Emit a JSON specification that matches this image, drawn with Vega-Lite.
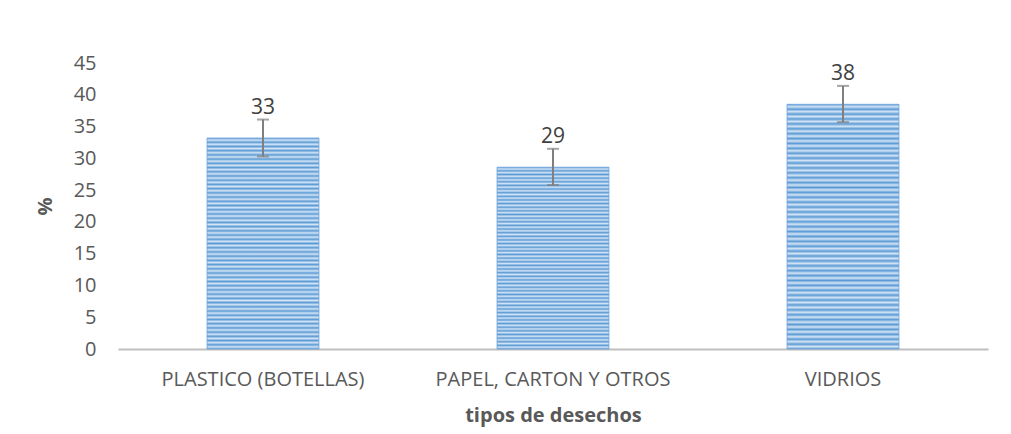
{
  "$schema": "https://vega.github.io/schema/vega-lite/v6.json",
  "width": 870,
  "height": 286,
  "autosize": {"type": "none"},
  "padding": {"left": 118, "top": 63, "right": 23, "bottom": 85},
  "background": "white",
  "config": {
    "view": {"stroke": null},
    "font": "Open Sans",
    "axisY": {
      "titleFontSize": 20, "titleFontWeight": "bold", "titleColor": "#595959",
      "titleX": -73, "titleY": 143, "titleAngle": -90, "titleBaseline": "middle", "titleAlign": "center",
      "labelFontSize": 20, "labelColor": "#595959", "labelPadding": 22, "labelOverlap": false,
      "ticks": false, "domain": false, "grid": false
    }
  },
  "data": {"values": [
    {"tipo": "PLASTICO (BOTELLAS)", "pct": 33.2, "lo": 30.3, "hi": 36.1, "label": "33"},
    {"tipo": "PAPEL, CARTON Y OTROS", "pct": 28.6, "lo": 25.8, "hi": 31.5, "label": "29"},
    {"tipo": "VIDRIOS", "pct": 38.5, "lo": 35.7, "hi": 41.4, "label": "38"}
  ]},
  "encoding": {
    "x": {
      "field": "tipo", "type": "nominal", "sort": null,
      "scale": {"paddingInner": 0, "paddingOuter": 0},
      "axis": {
        "title": "tipos de desechos", "titleFontSize": 20, "titleFontWeight": "bold", "titleColor": "#595959",
        "titleY": 66, "titleBaseline": "middle",
        "labelAngle": 0, "labelFontSize": 20, "labelColor": "#595959", "labelPadding": 20,
        "labelLimit": 0, "labelOverlap": false,
        "ticks": false, "domainColor": "#bfbfbf", "domainWidth": 2, "grid": false
      }
    }
  },
  "layer": [
    {
      "mark": {
        "type": "bar", "width": {"band": 0.386}, "stroke": "#6fa3dc", "strokeWidth": 0.8,
        "color": {"gradient": "linear", "x1": 0, "y1": 0, "x2": 0, "y2": 1, "stops": [
          {"offset": 0, "color": "#5b9bd5"}, {"offset": 0.01, "color": "#d4e4f6"}, {"offset": 0.02, "color": "#5b9bd5"}, {"offset": 0.03, "color": "#d4e4f6"}, {"offset": 0.04, "color": "#5b9bd5"}, {"offset": 0.05, "color": "#d4e4f6"}, {"offset": 0.06, "color": "#5b9bd5"}, {"offset": 0.07, "color": "#d4e4f6"}, {"offset": 0.08, "color": "#5b9bd5"}, {"offset": 0.09, "color": "#d4e4f6"},
          {"offset": 0.10, "color": "#5b9bd5"}, {"offset": 0.11, "color": "#d4e4f6"}, {"offset": 0.12, "color": "#5b9bd5"}, {"offset": 0.13, "color": "#d4e4f6"}, {"offset": 0.14, "color": "#5b9bd5"}, {"offset": 0.15, "color": "#d4e4f6"}, {"offset": 0.16, "color": "#5b9bd5"}, {"offset": 0.17, "color": "#d4e4f6"}, {"offset": 0.18, "color": "#5b9bd5"}, {"offset": 0.19, "color": "#d4e4f6"},
          {"offset": 0.20, "color": "#5b9bd5"}, {"offset": 0.21, "color": "#d4e4f6"}, {"offset": 0.22, "color": "#5b9bd5"}, {"offset": 0.23, "color": "#d4e4f6"}, {"offset": 0.24, "color": "#5b9bd5"}, {"offset": 0.25, "color": "#d4e4f6"}, {"offset": 0.26, "color": "#5b9bd5"}, {"offset": 0.27, "color": "#d4e4f6"}, {"offset": 0.28, "color": "#5b9bd5"}, {"offset": 0.29, "color": "#d4e4f6"},
          {"offset": 0.30, "color": "#5b9bd5"}, {"offset": 0.31, "color": "#d4e4f6"}, {"offset": 0.32, "color": "#5b9bd5"}, {"offset": 0.33, "color": "#d4e4f6"}, {"offset": 0.34, "color": "#5b9bd5"}, {"offset": 0.35, "color": "#d4e4f6"}, {"offset": 0.36, "color": "#5b9bd5"}, {"offset": 0.37, "color": "#d4e4f6"}, {"offset": 0.38, "color": "#5b9bd5"}, {"offset": 0.39, "color": "#d4e4f6"},
          {"offset": 0.40, "color": "#5b9bd5"}, {"offset": 0.41, "color": "#d4e4f6"}, {"offset": 0.42, "color": "#5b9bd5"}, {"offset": 0.43, "color": "#d4e4f6"}, {"offset": 0.44, "color": "#5b9bd5"}, {"offset": 0.45, "color": "#d4e4f6"}, {"offset": 0.46, "color": "#5b9bd5"}, {"offset": 0.47, "color": "#d4e4f6"}, {"offset": 0.48, "color": "#5b9bd5"}, {"offset": 0.49, "color": "#d4e4f6"},
          {"offset": 0.50, "color": "#5b9bd5"}, {"offset": 0.51, "color": "#d4e4f6"}, {"offset": 0.52, "color": "#5b9bd5"}, {"offset": 0.53, "color": "#d4e4f6"}, {"offset": 0.54, "color": "#5b9bd5"}, {"offset": 0.55, "color": "#d4e4f6"}, {"offset": 0.56, "color": "#5b9bd5"}, {"offset": 0.57, "color": "#d4e4f6"}, {"offset": 0.58, "color": "#5b9bd5"}, {"offset": 0.59, "color": "#d4e4f6"},
          {"offset": 0.60, "color": "#5b9bd5"}, {"offset": 0.61, "color": "#d4e4f6"}, {"offset": 0.62, "color": "#5b9bd5"}, {"offset": 0.63, "color": "#d4e4f6"}, {"offset": 0.64, "color": "#5b9bd5"}, {"offset": 0.65, "color": "#d4e4f6"}, {"offset": 0.66, "color": "#5b9bd5"}, {"offset": 0.67, "color": "#d4e4f6"}, {"offset": 0.68, "color": "#5b9bd5"}, {"offset": 0.69, "color": "#d4e4f6"},
          {"offset": 0.70, "color": "#5b9bd5"}, {"offset": 0.71, "color": "#d4e4f6"}, {"offset": 0.72, "color": "#5b9bd5"}, {"offset": 0.73, "color": "#d4e4f6"}, {"offset": 0.74, "color": "#5b9bd5"}, {"offset": 0.75, "color": "#d4e4f6"}, {"offset": 0.76, "color": "#5b9bd5"}, {"offset": 0.77, "color": "#d4e4f6"}, {"offset": 0.78, "color": "#5b9bd5"}, {"offset": 0.79, "color": "#d4e4f6"},
          {"offset": 0.80, "color": "#5b9bd5"}, {"offset": 0.81, "color": "#d4e4f6"}, {"offset": 0.82, "color": "#5b9bd5"}, {"offset": 0.83, "color": "#d4e4f6"}, {"offset": 0.84, "color": "#5b9bd5"}, {"offset": 0.85, "color": "#d4e4f6"}, {"offset": 0.86, "color": "#5b9bd5"}, {"offset": 0.87, "color": "#d4e4f6"}, {"offset": 0.88, "color": "#5b9bd5"}, {"offset": 0.89, "color": "#d4e4f6"},
          {"offset": 0.90, "color": "#5b9bd5"}, {"offset": 0.91, "color": "#d4e4f6"}, {"offset": 0.92, "color": "#5b9bd5"}, {"offset": 0.93, "color": "#d4e4f6"}, {"offset": 0.94, "color": "#5b9bd5"}, {"offset": 0.95, "color": "#d4e4f6"}, {"offset": 0.96, "color": "#5b9bd5"}, {"offset": 0.97, "color": "#d4e4f6"}, {"offset": 0.98, "color": "#5b9bd5"}, {"offset": 0.99, "color": "#d4e4f6"},
          {"offset": 1, "color": "#5b9bd5"}
        ]}
      },
      "encoding": {
        "y": {
          "field": "pct", "type": "quantitative",
          "scale": {"domain": [0, 45], "nice": false},
          "axis": {"title": "%", "values": [0, 5, 10, 15, 20, 25, 30, 35, 40, 45]}
        }
      }
    },
    {
      "mark": {"type": "rule", "color": "#7f7f7f", "strokeWidth": 2},
      "encoding": {
        "y": {"field": "lo", "type": "quantitative", "axis": {"title": "%", "values": [0, 5, 10, 15, 20, 25, 30, 35, 40, 45]}},
        "y2": {"field": "hi"}
      }
    },
    {
      "mark": {"type": "tick", "color": "#7f7f7f", "size": 12, "thickness": 2},
      "encoding": {"y": {"field": "hi", "type": "quantitative", "axis": {"title": "%", "values": [0, 5, 10, 15, 20, 25, 30, 35, 40, 45]}}}
    },
    {
      "mark": {"type": "tick", "color": "#7f7f7f", "size": 12, "thickness": 2},
      "encoding": {"y": {"field": "lo", "type": "quantitative", "axis": {"title": "%", "values": [0, 5, 10, 15, 20, 25, 30, 35, 40, 45]}}}
    },
    {
      "mark": {"type": "text", "baseline": "alphabetic", "dy": -6, "fontSize": 21, "color": "#404040"},
      "encoding": {
        "y": {"field": "hi", "type": "quantitative", "axis": {"title": "%", "values": [0, 5, 10, 15, 20, 25, 30, 35, 40, 45]}},
        "text": {"field": "label"}
      }
    }
  ]
}
